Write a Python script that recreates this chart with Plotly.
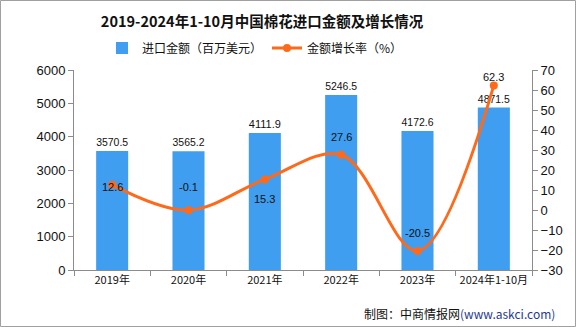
import plotly.graph_objects as go

categories = ["2019年", "2020年", "2021年", "2022年", "2023年", "2024年1-10月"]
import_values = [3570.5, 3565.2, 4111.9, 5246.5, 4172.6, 4871.5]
growth_rates = [12.6, -0.1, 15.3, 27.6, -20.5, 62.3]
left_ticks = [0, 1000, 2000, 3000, 4000, 5000, 6000]
right_ticks = [-30, -20, -10, 0, 10, 20, 30, 40, 50, 60, 70]

rate_label_shift = [-2, 23, -20, 18, 18, 8]

W, H = 576, 327
L, R, T, B = 74, 44, 70, 57
pw, ph = W - L - R, H - T - B

BAR = "#3F9EF0"
LINE = "#FF6A1A"
AX = "#8c8c8c"
NUMF = "Liberation Sans, Arial, sans-serif"
CJK = "Noto Sans CJK SC, sans-serif"

fig = go.Figure()
fig.add_trace(go.Bar(
    x=categories, y=import_values, name="进口金额（百万美元）",
    marker=dict(color=BAR, line=dict(width=0)),
    text=[f"{v:.1f}" for v in import_values], textposition="outside",
    textfont=dict(family=NUMF, size=11, color="#111"), cliponaxis=False,
))
fig.add_trace(go.Scatter(
    x=categories, y=growth_rates, yaxis="y2", name="金额增长率（%）",
    mode="lines+markers", line=dict(color=LINE, width=3, shape="spline", smoothing=1.0),
    marker=dict(color=LINE, size=8), cliponaxis=False,
))

ann = []
for c, v, s in zip(categories, growth_rates, rate_label_shift):
    ann.append(dict(x=c, y=v, xref="x", yref="y2", text=f"{v}", showarrow=False,
                    yshift=s, font=dict(family=NUMF, size=11, color="#111")))

ann.append(dict(xref="paper", yref="paper", x=(557 - L) / pw, y=(H - B - 313) / ph,
                xanchor="right", yanchor="middle", showarrow=False,
                text="制图：中商情报网<span style='color:#1F3A8F'>(www.askci.com)</span>",
                font=dict(family=CJK, size=12, color="#111")))

fig.update_layout(
    width=W, height=H, margin=dict(l=L, r=R, t=T, b=B, autoexpand=False),
    paper_bgcolor="white", plot_bgcolor="white",
    title=dict(text="<b>2019-2024年1-10月中国棉花进口金额及增长情况</b>",
               x=262 / W, xref="container", xanchor="center",
               y=1 - 22 / H, yref="container", yanchor="middle",
               font=dict(family=CJK, size=14.5, color="#111")),
    legend=dict(orientation="h", xref="container", yref="container",
                x=255 / W, xanchor="center", y=1 - 48 / H, yanchor="middle",
                font=dict(family=CJK, size=12, color="#111"), itemwidth=30,
                bgcolor="rgba(0,0,0,0)"),
    bargap=0.58, showlegend=True,
    xaxis=dict(showline=True, linecolor=AX, linewidth=1, ticks="outside", tickcolor=AX,
               ticklen=5, tickson="boundaries", showgrid=False, tickangle=0, automargin=False,
               tickfont=dict(family=CJK, size=11, color="#111")),
    yaxis=dict(range=[0, 6000], tickvals=left_ticks, showline=True, linecolor=AX,
               ticks="outside", tickcolor=AX, ticklen=5, showgrid=False, zeroline=False,
               automargin=False, tickfont=dict(family=NUMF, size=13, color="#111")),
    yaxis2=dict(range=[-30, 70], tickvals=right_ticks, overlaying="y", side="right",
                showline=True, linecolor=AX, ticks="outside", tickcolor=AX, ticklen=5,
                showgrid=False, zeroline=False, automargin=False,
                tickfont=dict(family=NUMF, size=13, color="#111")),
    annotations=ann,
    shapes=[dict(type="rect", xref="paper", yref="paper",
                 x0=(0.5 - L) / pw, x1=(W - 0.5 - L) / pw,
                 y0=(H - B - (H - 0.5)) / ph, y1=(H - B - 0.5) / ph,
                 line=dict(color="#a0a0a0", width=1), layer="below")],
)

fig.write_html("out.html")
